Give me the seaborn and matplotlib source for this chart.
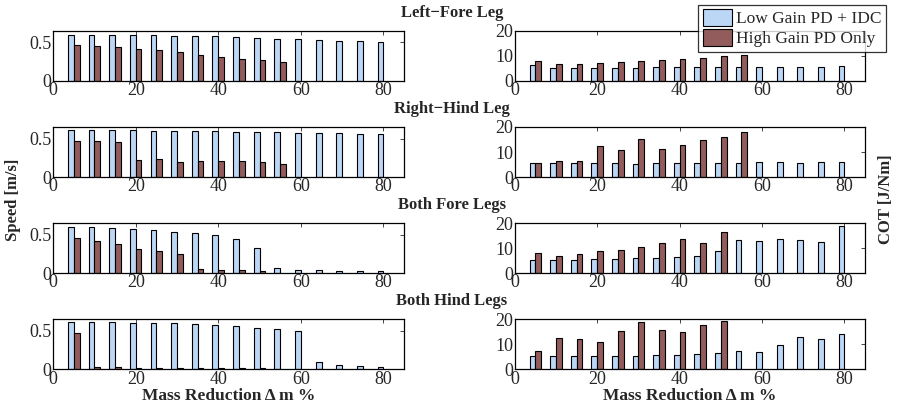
import matplotlib
matplotlib.use("Agg")
import matplotlib.pyplot as plt
import pandas as pd
import seaborn as sns

# mass reduction steps (%)
MASS = [5, 10, 15, 20, 25, 30, 35, 40, 45, 50, 55, 60, 65, 70, 75, 80]
SERIES = ["Low Gain PD + IDC", "High Gain PD Only"]
CASES = ["Left\u2212Fore Leg", "Right\u2212Hind Leg", "Both Fore Legs", "Both Hind Legs"]

# speed [m/s], low gain + IDC
SPEED_LOW = [
    [0.60, 0.60, 0.60, 0.60, 0.595, 0.59, 0.585, 0.58, 0.565, 0.555, 0.55, 0.54, 0.535, 0.525, 0.52, 0.51],
    [0.617, 0.617, 0.617, 0.613, 0.604, 0.604, 0.596, 0.596, 0.587, 0.587, 0.583, 0.578, 0.574, 0.57, 0.565, 0.557],
    [0.60, 0.596, 0.587, 0.574, 0.557, 0.539, 0.522, 0.491, 0.443, 0.322, 0.07, 0.043, 0.035, 0.03, 0.026, 0.026],
    [0.609, 0.609, 0.609, 0.604, 0.604, 0.596, 0.587, 0.574, 0.561, 0.539, 0.526, 0.496, 0.091, 0.057, 0.043, 0.026],
]
# speed [m/s], high gain only (None = not run)
SPEED_HIGH = [
    [0.465, 0.448, 0.435, 0.417, 0.396, 0.37, 0.339, 0.313, 0.291, 0.27, 0.252, None, None, None, None, None],
    [0.47, 0.47, 0.457, 0.217, 0.23, 0.20, 0.209, 0.213, 0.204, 0.191, 0.165, None, None, None, None, None],
    [0.452, 0.422, 0.374, 0.317, 0.283, 0.243, 0.052, 0.039, 0.035, 0.026, None, None, None, None, None, None],
    [0.47, 0.03, 0.022, 0.017, 0.013, 0.013, 0.009, 0.009, 0.009, 0.009, None, None, None, None, None, None],
]
# cost of transport [J/Nm], low gain + IDC
COT_LOW = [
    [6.2, 5.3, 5.3, 5.3, 5.3, 5.3, 5.4, 5.4, 5.6, 5.7, 5.7, 5.7, 5.7, 5.7, 5.7, 6.1],
    [5.5, 5.5, 5.5, 5.5, 5.5, 5.4, 5.5, 5.5, 5.5, 5.7, 5.7, 6.0, 6.0, 5.8, 6.0, 6.0],
    [5.3, 5.3, 5.3, 5.6, 5.7, 5.9, 6.0, 6.3, 6.8, 8.9, 13.1, 12.7, 13.6, 13.3, 12.4, 18.8],
    [5.3, 5.3, 5.3, 5.3, 5.3, 5.3, 5.6, 5.7, 6.0, 6.3, 7.1, 6.9, 9.7, 12.8, 11.9, 13.9],
]
# cost of transport [J/Nm], high gain only
COT_HIGH = [
    [7.8, 6.7, 6.7, 7.1, 7.4, 7.9, 8.3, 8.8, 9.3, 9.8, 10.3, None, None, None, None, None],
    [5.7, 6.3, 6.4, 12.4, 10.7, 15.1, 11.3, 12.8, 14.8, 15.9, 18.1, None, None, None, None, None],
    [8.0, 6.8, 7.6, 8.7, 9.3, 10.4, 12.1, 13.7, 12.0, 16.3, None, None, None, None, None, None],
    [7.3, 12.3, 12.0, 10.8, 15.2, 18.7, 15.5, 14.9, 17.5, 19.3, None, None, None, None, None, None],
]

COLORS = ["#BCD6F6", "#925C5C"]


def make_frame(low, high):
    ''' builds a long table for one panel, dropping the missing runs '''
    df = pd.DataFrame({
        "mass": MASS * 2,
        "value": low + high,
        "ctrl": [SERIES[0]] * len(MASS) + [SERIES[1]] * len(MASS),
    })
    return df.dropna()


def draw_panel(ax, df, ylim, yticks, ticklabels):
    ''' grouped bars on a numeric x axis, matlab style box '''
    sns.barplot(data=df, x="mass", y="value", hue="ctrl", hue_order=SERIES,
                palette=COLORS, native_scale=True, width=0.56, errorbar=None,
                edgecolor="black", linewidth=0.8, saturation=1, ax=ax,
                legend=True)
    ax.set_xlim(0, 85)
    ax.set_ylim(*ylim)
    ax.set_xticks([0, 20, 40, 60, 80])
    ax.set_yticks(yticks)
    ax.set_yticklabels(ticklabels)
    ax.set_xlabel("")
    ax.set_ylabel("")
    ax.tick_params(direction="in", top=True, right=True, length=3,
                   labelsize=13, pad=1, width=0.6)
    for sp in ax.spines.values():
        sp.set_linewidth(0.9)
        sp.set_color("black")


def main():
    sns.set_theme(style="white")
    plt.rcParams["font.family"] = ["Liberation Serif", "DejaVu Serif"]

    fig = plt.figure(figsize=(9, 4.07), dpi=100)
    bottoms = [0.801, 0.565, 0.329, 0.093]
    handles = None

    for i in range(4):
        axl = fig.add_axes([0.059, bottoms[i], 0.39, 0.123])
        axr = fig.add_axes([0.572, bottoms[i], 0.389, 0.123])
        draw_panel(axl, make_frame(SPEED_LOW[i], SPEED_HIGH[i]),
                   (0, 0.65), [0, 0.5], ["0", "0.5"])
        draw_panel(axr, make_frame(COT_LOW[i], COT_HIGH[i]),
                   (0, 20), [0, 10, 20], ["0", "10", "20"])
        if handles is None:
            handles, labels = axl.get_legend_handles_labels()
        axl.get_legend().remove()
        axr.get_legend().remove()

        # case title sits above the row, centred on the figure
        fig.text(0.502, bottoms[i] + 0.123 + 0.045, CASES[i], ha="center",
                 va="center", fontsize=12, fontweight="bold")

        if i == 3:
            for ax in (axl, axr):
                ax.set_xlabel("Mass Reduction \u0394 m %", fontsize=12.5,
                              fontweight="bold", labelpad=0)

    fig.text(0.014, 0.51, "Speed [m/s]", rotation=90, ha="center",
             va="center", fontsize=12, fontweight="bold")
    fig.text(0.984, 0.51, "COT [J/Nm]", rotation=90, ha="center",
             va="center", fontsize=12, fontweight="bold")

    leg = fig.legend(handles, labels, loc="upper right",
                     bbox_to_anchor=(0.984, 0.988), fontsize=12.5,
                     frameon=True, fancybox=False, borderpad=0.25,
                     handlelength=1.7, handleheight=1.1, handletextpad=0.2,
                     labelspacing=0.1, borderaxespad=0)
    leg.get_frame().set_edgecolor("black")
    leg.get_frame().set_linewidth(0.9)

    fig.savefig("out.png", dpi=100)


main()
